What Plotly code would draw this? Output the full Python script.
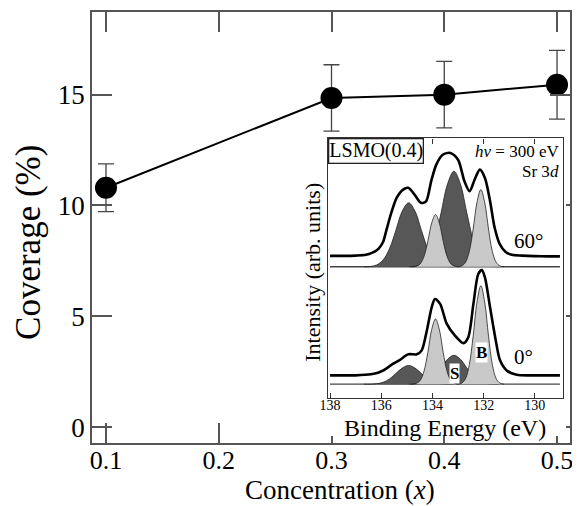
import plotly.graph_objects as go

SERIF = "Liberation Serif, Times New Roman, serif"

# ---------------- main panel data ----------------
concentration = [0.1, 0.3, 0.4, 0.5]
coverage = [10.8, 14.85, 15.0, 15.45]
coverage_err = [1.08, 1.5, 1.5, 1.55]
x_tick_vals = [0.1, 0.2, 0.3, 0.4, 0.5]
x_tick_text = ["0.1", "0.2", "0.3", "0.4", "0.5"]
y_tick_vals = [0, 5, 10, 15]
y_tick_text = ["0", "5", "10", "15"]

# ---------------- inset (Sr 3d spectra) ----------------
energy_ticks = [138, 136, 134, 132, 130]
energy_tick_text = ["138", "136", "134", "132", "130"]
energy_span = [138.0, 129.02]
offset_60 = 50.6   # vertical offset of the 60 deg spectrum
offset_0 = 5.4     # vertical offset of the 0 deg spectrum

# measured spectra (intensity above the fit baseline, arb. units)
energy_60 = [138.0, 137.5, 137.0, 136.6, 136.3, 136.1, 135.93, 135.8, 135.6, 135.4, 135.2,
             134.95, 134.7, 134.45, 134.25, 134.05, 133.85, 133.6, 133.3, 133.0, 132.75,
             132.55, 132.35, 132.15, 131.95, 131.75, 131.57, 131.37, 131.15, 130.9, 130.5,
             130.0, 129.5, 129.02]
intensity_60 = [4.2, 4.2, 4.3, 4.6, 5.6, 7.0, 9.5, 14.0, 21.0, 26.5, 29.3,
                30.4, 27.8, 24.6, 25.2, 32.9, 39.3, 43.1, 43.8, 41.2, 32.9,
                29.1, 33.6, 37.4, 34.2, 25.3, 15.0, 8.7, 5.8, 4.6, 4.3,
                4.1, 4.0, 4.0]

energy_0 = [138.0, 137.5, 137.0, 136.4, 136.1, 135.92, 135.53, 135.27, 134.94, 134.61,
            134.42, 134.22, 134.03, 133.9, 133.7, 133.44, 133.12, 132.79, 132.6, 132.4,
            132.21, 132.07, 131.95, 131.75, 131.55, 131.36, 131.1, 130.71, 130.0, 129.5,
            129.02]
intensity_0 = [3.4, 3.4, 3.4, 3.8, 4.5, 5.3, 7.9, 9.4, 11.5, 11.5,
               13.0, 20.6, 29.6, 32.8, 30.9, 23.2, 18.7, 15.8, 18.1, 30.9,
               42.4, 43.9, 41.1, 29.6, 18.1, 9.2, 5.3, 3.6, 3.4, 3.4,
               3.4]

# fitted components: centres (eV), sampling offsets (eV) and heights
center_S1, center_B1, center_S2, center_B2 = 134.93, 133.88, 133.16, 132.11
S_offsets = [1.75, 1.5, 1.25, 1.0, 0.75, 0.5, 0.25, 0.0, -0.25, -0.5, -0.75, -1.0, -1.25, -1.5, -1.75]
B_offsets = [0.9, 0.75, 0.6, 0.45, 0.3, 0.15, 0.0, -0.15, -0.3, -0.45, -0.6, -0.75, -0.9]

S1_60 = [0, 0.1, 0.7, 2.6, 6.9, 14.0, 21.4, 24.6, 21.4, 14.0, 6.9, 2.6, 0.7, 0.1, 0]
S2_60 = [0, 0.2, 1.1, 3.8, 10.3, 20.9, 31.9, 36.8, 31.9, 20.9, 10.3, 3.8, 1.1, 0.2, 0]
B1_60 = [0, 0.2, 1.1, 4.0, 9.8, 16.8, 20.1, 16.8, 9.8, 4.0, 1.1, 0.2, 0]
B2_60 = [0, 0.3, 1.7, 5.9, 14.5, 24.8, 29.7, 24.8, 14.5, 5.9, 1.7, 0.3, 0]

S1_0 = [0, 0, 0.2, 0.7, 2.0, 4.1, 6.2, 7.2, 6.2, 4.1, 2.0, 0.7, 0.2, 0, 0]
S2_0 = [0, 0.1, 0.3, 1.2, 3.1, 6.3, 9.6, 11.1, 9.6, 6.3, 3.1, 1.2, 0.3, 0.1, 0]
B1_0 = [0, 0.3, 1.4, 5.0, 12.2, 21.0, 25.1, 21.0, 12.2, 5.0, 1.4, 0.3, 0]
B2_0 = [0, 0.4, 2.1, 7.5, 18.5, 31.6, 37.9, 31.6, 18.5, 7.5, 2.1, 0.4, 0]

DARK = "#575757"
LIGHT = "#c9c9c9"

fig = go.Figure()

# main coverage curve
fig.add_trace(go.Scatter(
    x=concentration, y=coverage, mode="lines+markers",
    line=dict(color="black", width=2),
    marker=dict(size=22, color="black"),
    error_y=dict(type="data", array=coverage_err, color="#444444", thickness=1.3, width=8),
    xaxis="x", yaxis="y", hoverinfo="skip"))

# empty trace on the white cover subplot (sits between main panel and inset)
fig.add_trace(go.Scatter(x=[], y=[], xaxis="x2", yaxis="y2", showlegend=False))


def comp(center, offsets, heights, base, color):
    fig.add_trace(go.Scatter(
        x=[center + o for o in offsets], y=[base + h for h in heights],
        mode="lines", fill="toself", fillcolor=color,
        line=dict(color="#222222", width=0.8, shape="spline"),
        xaxis="x3", yaxis="y3", hoverinfo="skip"))


for base in (offset_60, offset_0):
    fig.add_trace(go.Scatter(x=energy_span, y=[base, base], mode="lines",
                             line=dict(color="#444444", width=1.3),
                             xaxis="x3", yaxis="y3", hoverinfo="skip"))

# dark (surface) components first, light (bulk) on top
comp(center_S1, S_offsets, S1_60, offset_60, DARK)
comp(center_S2, S_offsets, S2_60, offset_60, DARK)
comp(center_B1, B_offsets, B1_60, offset_60, LIGHT)
comp(center_B2, B_offsets, B2_60, offset_60, LIGHT)
comp(center_S1, S_offsets, S1_0, offset_0, DARK)
comp(center_S2, S_offsets, S2_0, offset_0, DARK)
comp(center_B1, B_offsets, B1_0, offset_0, LIGHT)
comp(center_B2, B_offsets, B2_0, offset_0, LIGHT)

fig.add_trace(go.Scatter(x=energy_60, y=[offset_60 + v for v in intensity_60], mode="lines",
                         line=dict(color="black", width=2.6, shape="spline", smoothing=0.8),
                         xaxis="x3", yaxis="y3", hoverinfo="skip"))
fig.add_trace(go.Scatter(x=energy_0, y=[offset_0 + v for v in intensity_0], mode="lines",
                         line=dict(color="black", width=2.6, shape="spline", smoothing=0.8),
                         xaxis="x3", yaxis="y3", hoverinfo="skip"))

axis_common = dict(showgrid=False, zeroline=False, showline=True)

# the page body has an 8px margin: the figure is sized so the plot area lands
# at x 92-570, y 10-443 of the 580x506 window
fig.update_layout(
    width=572, height=498,
    margin=dict(l=84, r=10, t=2, b=63),
    paper_bgcolor="white", plot_bgcolor="white",
    showlegend=False,
    font=dict(family=SERIF, color="black"),
    xaxis=dict(**axis_common, domain=[0, 1], anchor="y", range=[0.0876, 0.5115],
               tickvals=x_tick_vals, ticktext=x_tick_text,
               ticks="inside", ticklen=20, tickwidth=1.5, tickcolor="#555555",
               linecolor="#555555", linewidth=1.6, mirror="ticks", ticklabelstandoff=-7,
               tickfont=dict(size=26, family=SERIF, color="black")),
    yaxis=dict(**axis_common, domain=[0, 1], anchor="x", range=[-0.72, 18.73],
               tickvals=y_tick_vals, ticktext=y_tick_text,
               ticks="inside", ticklen=20, tickwidth=1.5, tickcolor="#555555",
               linecolor="#555555", linewidth=1.6, mirror="ticks",
               tickfont=dict(size=27, family=SERIF, color="black")),
    # white cover behind the inset
    xaxis2=dict(domain=[0.4456, 0.9916], anchor="y2", range=[0, 1],
                showgrid=False, zeroline=False, showline=False, showticklabels=False, ticks=""),
    yaxis2=dict(domain=[0.0162, 0.7067], anchor="x2", range=[0, 1],
                showgrid=False, zeroline=False, showline=False, showticklabels=False, ticks=""),
    # inset
    xaxis3=dict(**axis_common, domain=[0.4937, 0.9854], anchor="y3", range=[138.08, 128.9],
                tickvals=energy_ticks, ticktext=energy_tick_text,
                ticks="inside", ticklen=5, tickwidth=1.2, tickcolor="#333333",
                linecolor="#333333", linewidth=1.3, mirror="ticks", ticklabelstandoff=-6,
                tickfont=dict(size=14, family=SERIF, color="black")),
    yaxis3=dict(**axis_common, domain=[0.1039, 0.7067], anchor="x3", range=[0, 100],
                showticklabels=False, ticks="", linecolor="#333333", linewidth=1.3, mirror=True),
)

C = dict(xanchor="center", yanchor="middle", showarrow=False)
ann = [
    dict(text="Coverage (%)", xref="paper", yref="paper", x=-0.1318, y=0.4665,
         textangle=-90, font=dict(size=35), **C),
    dict(text="Concentration (<i>x</i>)", xref="paper", yref="paper", x=0.5188, y=-0.1085,
         font=dict(size=27), **C),
    dict(text="Intensity (arb. units)", xref="paper", yref="paper", x=0.4623, y=0.3972,
         textangle=-90, font=dict(size=22), **C),
    dict(text="Binding Energy (eV)", xref="paper", yref="paper", x=0.7395, y=0.0346,
         font=dict(size=24), **C),
    dict(text="LSMO(0.4)", xref="paper", yref="paper", x=0.4937, y=0.7067,
         xanchor="left", yanchor="top", font=dict(size=20), showarrow=False,
         bordercolor="#222222", borderwidth=1.3, borderpad=0, bgcolor="white"),
    dict(text="<i>hν</i> = 300 eV", xref="x3", yref="y3", x=128.98, y=95.0,
         xanchor="right", yanchor="middle", font=dict(size=17), showarrow=False),
    dict(text="Sr 3<i>d</i>", xref="x3", yref="y3", x=128.98, y=87.3,
         xanchor="right", yanchor="middle", font=dict(size=17), showarrow=False),
    dict(text="60°", xref="x3", yref="y3", x=130.23, y=60.5, font=dict(size=21), **C),
    dict(text="0°", xref="x3", yref="y3", x=130.46, y=15.7, font=dict(size=21), **C),
    dict(text="<b>B</b>", xref="x3", yref="y3", x=132.1, y=17.6,
         font=dict(size=17), bgcolor="white", borderpad=0, **C),
    dict(text="<b>S</b>", xref="x3", yref="y3", x=133.12, y=9.6,
         font=dict(size=17), bgcolor="white", borderpad=0, **C),
]
fig.update_layout(annotations=ann)

fig.write_html("out.html")
